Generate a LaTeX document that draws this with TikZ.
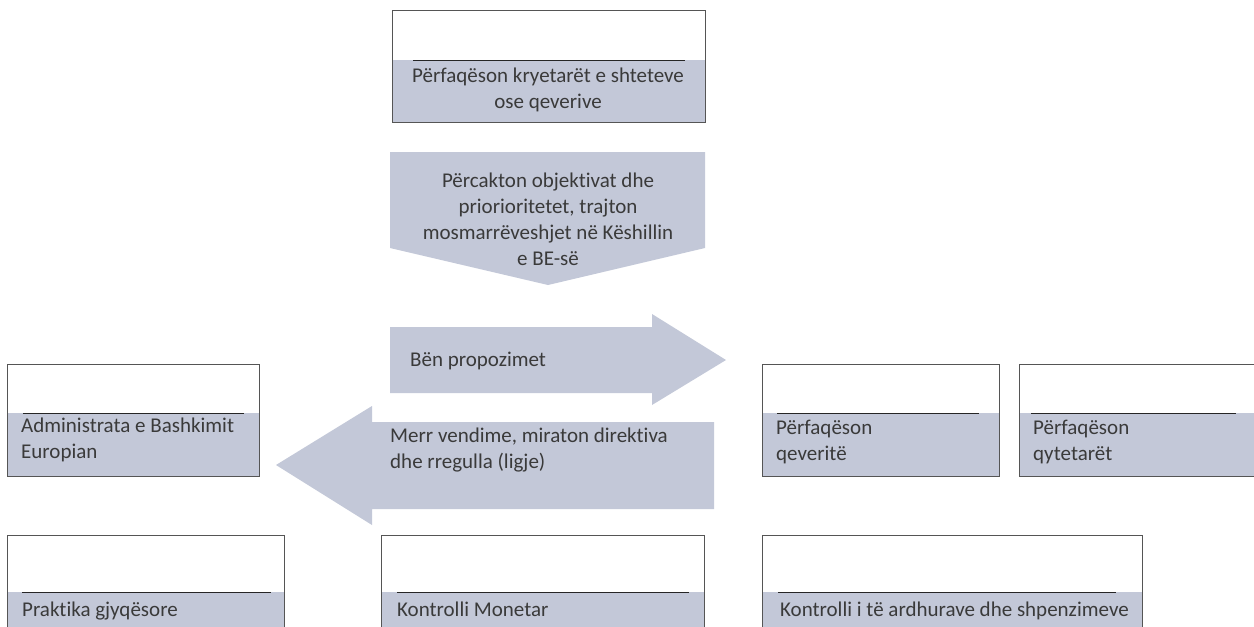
\documentclass[tikz,border=0pt]{standalone}
\usepackage{fontspec}
\setmainfont{Carlito}[Ligatures=NoCommon]
\usetikzlibrary{fit}
\definecolor{bandc}{HTML}{C3C8D8}
\definecolor{framec}{HTML}{555555}
\definecolor{textc}{HTML}{3A3A3A}
\tikzset{
  band/.style={fill=bandc},
  sepline/.style={draw=black!85, line width=0.9pt},
  frame/.style={draw=framec, line width=1pt, inner sep=0pt, fill=none},
  txt/.style={text=textc, font=\fontsize{21}{26}\selectfont, inner sep=0pt},
  arrowshape/.style={fill=bandc},
}
\newcommand\cardbox[8]{%
  \fill[band] (#2,#6) rectangle (#4,#5);
  \draw[sepline] (#7,#6) -- (#8,#6);
  \node[frame, fit={(#2,#3) (#4,#5)}] (#1) {};
}
\begin{document}
\begin{tikzpicture}[x=1pt,y=-1pt]
\useasboundingbox (0,0) rectangle (1254,627);
\clip (0,0) rectangle (1254,627);
\fill[white] (0,0) rectangle (1254,627);

% arrows
\fill[arrowshape] (390,152) -- (705,152) -- (705,248) -- (548,285) -- (390,248) -- cycle;
\fill[arrowshape] (390,327) -- (652,327) -- (652,314) -- (726,360) -- (652,405) -- (652,393) -- (390,393) -- cycle;
\fill[arrowshape] (714,422) -- (372,422) -- (372,406) -- (276,465) -- (372,525) -- (372,509) -- (714,509) -- cycle;

% boxes
\cardbox{eucouncil}{392}{10}{705}{122}{60}{413}{685}
\cardbox{commission}{7}{364}{259}{476}{413}{23}{244}
\cardbox{council}{762}{364}{999}{476}{413}{777}{979}
\cardbox{parliament}{1019}{364}{1270}{476}{413}{1031}{1236}
\cardbox{court}{7}{535}{284}{650}{592}{22}{271}
\cardbox{ecb}{381}{535}{704}{650}{592}{397}{689}
\cardbox{audit}{762}{535}{1142}{650}{592}{778}{1116}

% texts
\node[txt, align=center] (t1) at (548,90) {Përfaqëson kryetarët e shteteve\\ose qeverive};
\node[txt, align=center] (t2) at (548,219) {Përcakton objektivat dhe\\priorioritetet, trajton\\mosmarrëveshjet në Këshillin\\e BE-së};
\node[txt, anchor=base west] (t3) at (410,366) {Bën propozimet};
\node[txt, align=left, anchor=west] (t4) at (390,450) {Merr vendime, miraton direktiva\\dhe rregulla (ligje)};
\node[txt, align=left, anchor=west] (t5) at (21,440) {Administrata e Bashkimit\\Europian};
\node[txt, align=left, anchor=west] (t6) at (776,442) {Përfaqëson\\qeveritë};
\node[txt, align=left, anchor=west] (t7) at (1033,442) {Përfaqëson\\qytetarët};
\node[txt, anchor=base west] (t8) at (22,616) {Praktika gjyqësore};
\node[txt, anchor=base west] (t9) at (397,616) {Kontrolli Monetar};
\node[txt, anchor=base west] (t10) at (780,616) {Kontrolli i të ardhurave dhe shpenzimeve};
\end{tikzpicture}
\end{document}
